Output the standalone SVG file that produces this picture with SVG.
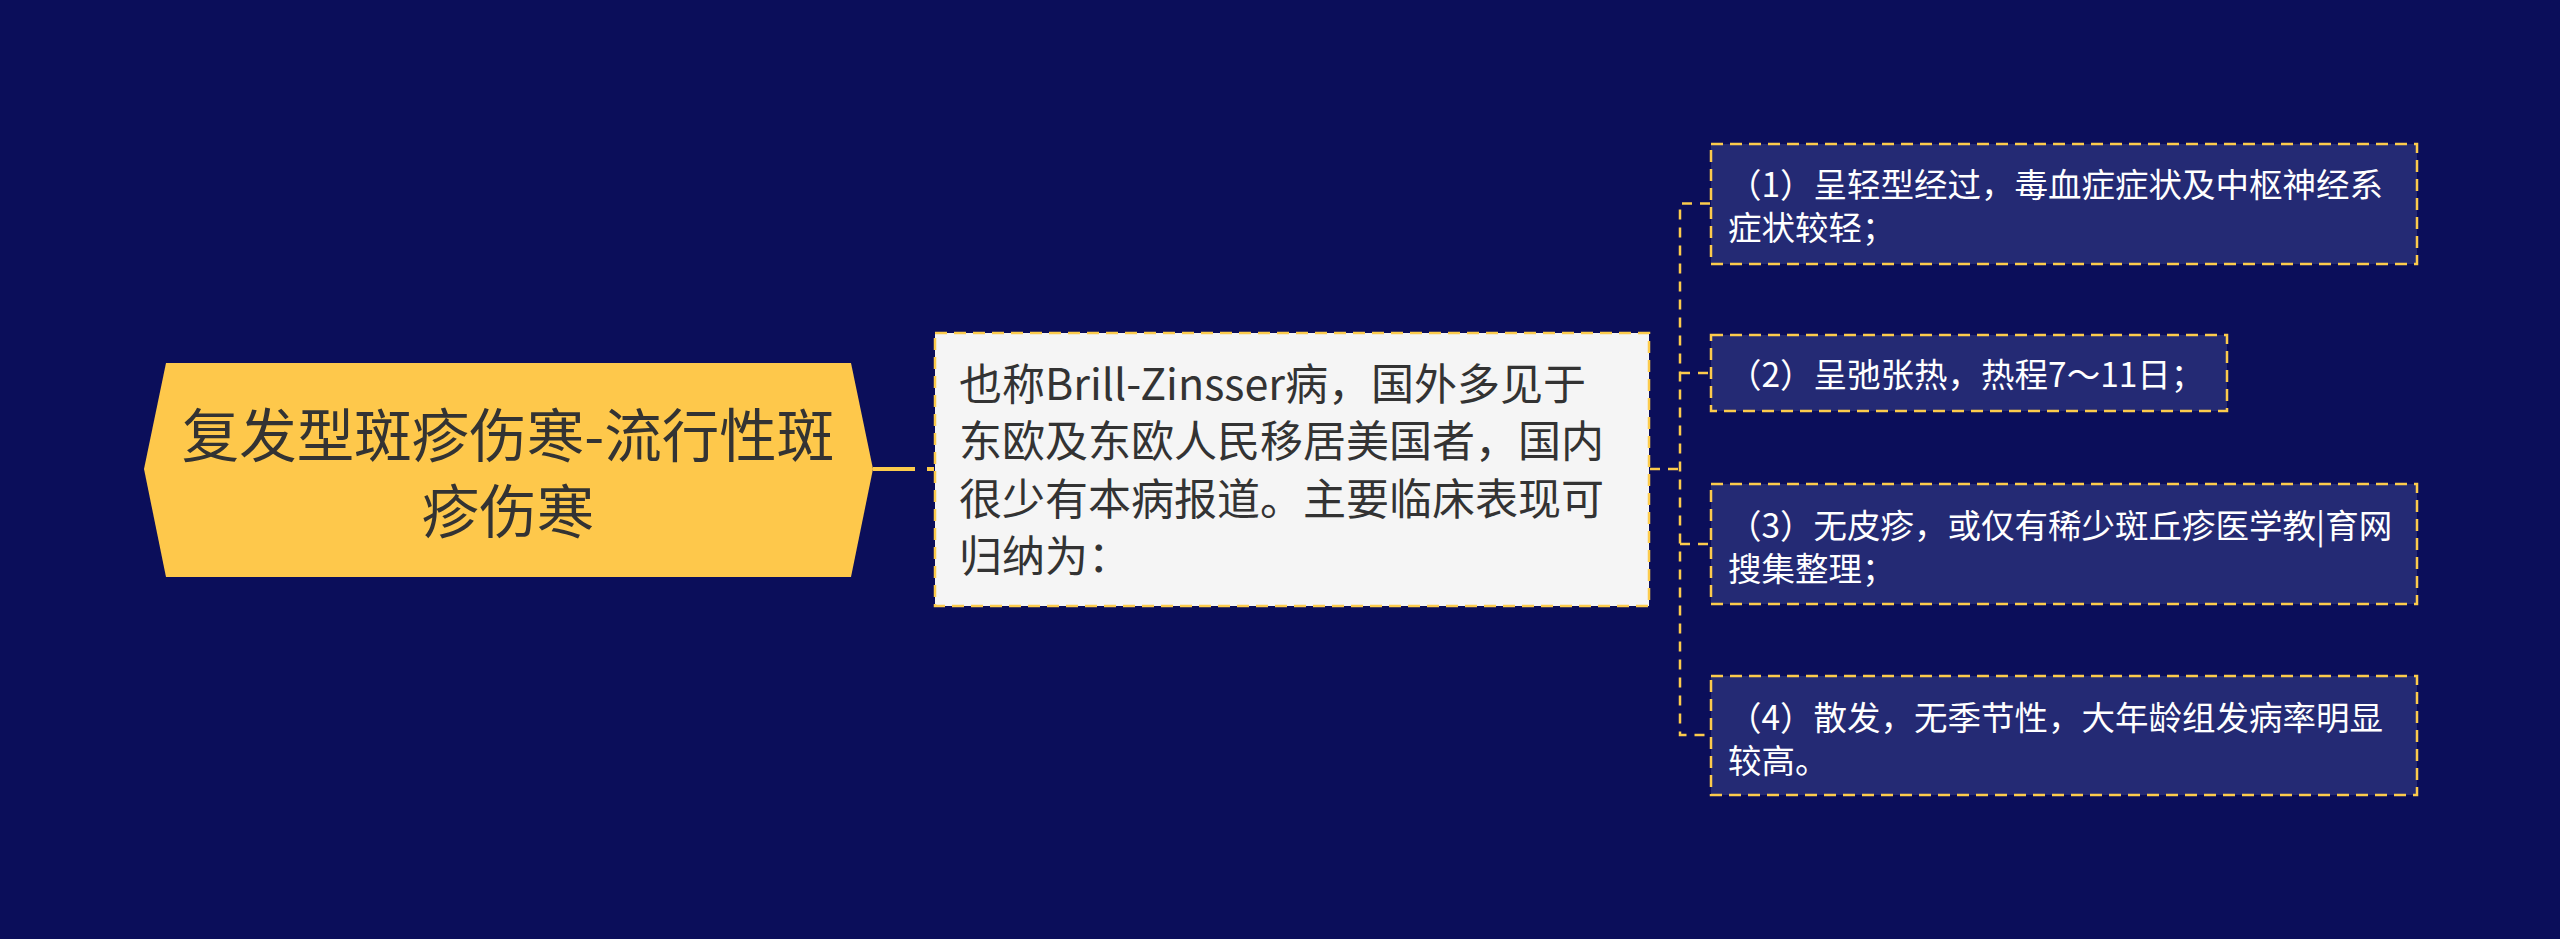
<svg xmlns="http://www.w3.org/2000/svg" width="2560" height="939" viewBox="0 0 2560 939">
<style>
.t{font-family:"Noto Sans CJK SC","Noto Sans",sans-serif;}
.root{fill:#333333;font-size:57.5px;}
.mid{fill:#333333;font-size:43px;}
.leaf{fill:#ffffff;font-size:33.5px;}
.leafbox{fill:#242a74;stroke:#fccb4c;stroke-width:2.5;stroke-dasharray:12 7;}
.con{fill:none;stroke:#fccb4c;stroke-width:2.5;stroke-dasharray:10 8;}
</style>
<rect width="2560" height="939" fill="#0b0e5a"/>
<g id="connectors">
<path d="M873 469 H934" fill="none" stroke="#fccb4c" stroke-width="4" stroke-dasharray="42 12"/>
<path class="con" d="M1650 469 H1680"/>
<path class="con" d="M1710 203.5 H1680 V735 H1710"/>
<path class="con" d="M1680 373 H1710"/>
<path class="con" d="M1680 544 H1710"/>
</g>
<g id="root">
<polygon points="166,363 851,363 873,469 851,577 166,577 144,469" fill="#fec84b"/>
<text class="t root" x="508" y="457" text-anchor="middle">复发型斑疹伤寒-流行性斑</text>
<text class="t root" x="508" y="533" text-anchor="middle">疹伤寒</text>
</g>
<g id="middle">
<rect x="935" y="333" width="714" height="273" fill="#f5f5f5" stroke="#fccb4c" stroke-width="2.5" stroke-dasharray="12 7"/>
<text class="t mid" x="959" y="400">也称Brill-Zinsser病，国外多见于</text>
<text class="t mid" x="959" y="457">东欧及东欧人民移居美国者，国内</text>
<text class="t mid" x="959" y="515">很少有本病报道。主要临床表现可</text>
<text class="t mid" x="959" y="572">归纳为：</text>
</g>
<g id="leaf1">
<rect class="leafbox" x="1711" y="144" width="706" height="120"/>
<text class="t leaf" x="1728" y="197">（1）呈轻型经过，毒血症症状及中枢神经系</text>
<text class="t leaf" x="1728" y="240">症状较轻；</text>
</g>
<g id="leaf2">
<rect class="leafbox" x="1711" y="335" width="516" height="76"/>
<text class="t leaf" x="1728" y="387">（2）呈弛张热，热程7～11日；</text>
</g>
<g id="leaf3">
<rect class="leafbox" x="1711" y="484" width="706" height="120"/>
<text class="t leaf" x="1728" y="538">（3）无皮疹，或仅有稀少斑丘疹医学教|育网</text>
<text class="t leaf" x="1728" y="581">搜集整理；</text>
</g>
<g id="leaf4">
<rect class="leafbox" x="1711" y="676" width="706" height="119"/>
<text class="t leaf" x="1728" y="730">（4）散发，无季节性，大年龄组发病率明显</text>
<text class="t leaf" x="1728" y="773">较高。</text>
</g>
</svg>
